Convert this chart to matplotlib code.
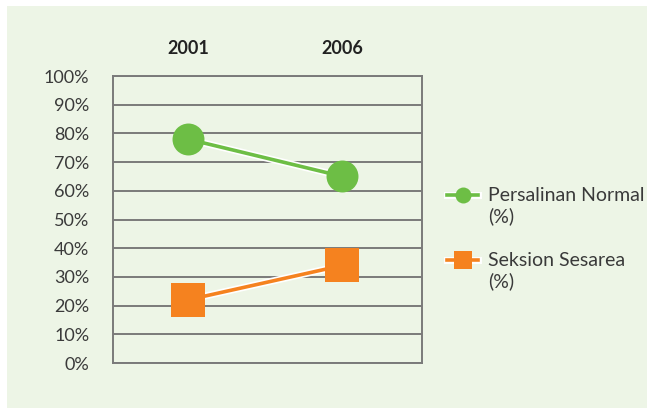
import matplotlib
matplotlib.use("Agg")
import matplotlib.pyplot as plt
import matplotlib.patheffects as pe
from matplotlib.patches import Rectangle
from matplotlib.legend_handler import HandlerTuple

# data
years = ["2001", "2006"]
normal = [78, 65]
sesarea = [22, 34]
labels = ["Persalinan Normal\n(%)", "Seksion Sesarea\n(%)"]

green = "#6DBE45"
orange = "#F5821F"
bg = "#EDF5E6"
grid_col = "#7A7A7A"

plt.rcParams["font.family"] = ["Lato", "DejaVu Sans"]

W, H = 647, 409
fig = plt.figure(figsize=(W / 100, H / 100), dpi=100, facecolor="white")
fig.patches.append(Rectangle((7 / W, 1 - 408 / H), 1, (408 - 6) / H,
                             transform=fig.transFigure, facecolor=bg,
                             edgecolor="none", zorder=-5))

ax = fig.add_axes([113 / W, 1 - 363 / H, (422 - 113) / W, (363 - 76) / H])
ax.set_facecolor(bg)

x = list(range(len(years)))
outline = [pe.Stroke(linewidth=5, foreground="white"), pe.Normal()]
line_g, = ax.plot(x, normal, color=green, lw=2.6, path_effects=outline, zorder=3)
mark_g, = ax.plot(x, normal, ls="none", color=green, marker="o", markersize=23,
                  markeredgewidth=0, zorder=4)
line_o, = ax.plot(x, sesarea, color=orange, lw=2.6, path_effects=outline, zorder=3)
mark_o, = ax.plot(x, sesarea, ls="none", color=orange, marker="s", markersize=25,
                  markeredgewidth=0, zorder=4)

ax.set_xlim(-0.485, 1.515)
ax.set_ylim(0, 100)
ax.set_yticks(range(0, 101, 10))
ax.set_yticklabels([f"{v}%" for v in range(0, 101, 10)], fontsize=13, color="#3a3a3a")
ax.set_xticks(x)
ax.set_xticklabels(years, fontsize=13, fontweight="bold", color="#222222")
ax.xaxis.tick_top()
ax.tick_params(axis="both", length=0)
ax.tick_params(axis="x", pad=14)
ax.tick_params(axis="y", pad=17)

ax.yaxis.grid(True, color=grid_col, lw=1.4)
ax.set_axisbelow(True)
for s in ax.spines.values():
    s.set_color(grid_col)
    s.set_linewidth(1.4)

leg = ax.legend([(line_g, mark_g), (line_o, mark_o)], labels,
                handler_map={tuple: HandlerTuple(ndivide=1)},
                loc="upper left", bbox_to_anchor=(1.025, 0.71), frameon=False,
                prop={"size": 14}, markerscale=0.5,
                handlelength=1.6, handletextpad=0.5, handleheight=4.6,
                labelspacing=0.1, labelcolor="#3a3a3a")

fig.savefig("out.png", dpi=100, facecolor="white")
